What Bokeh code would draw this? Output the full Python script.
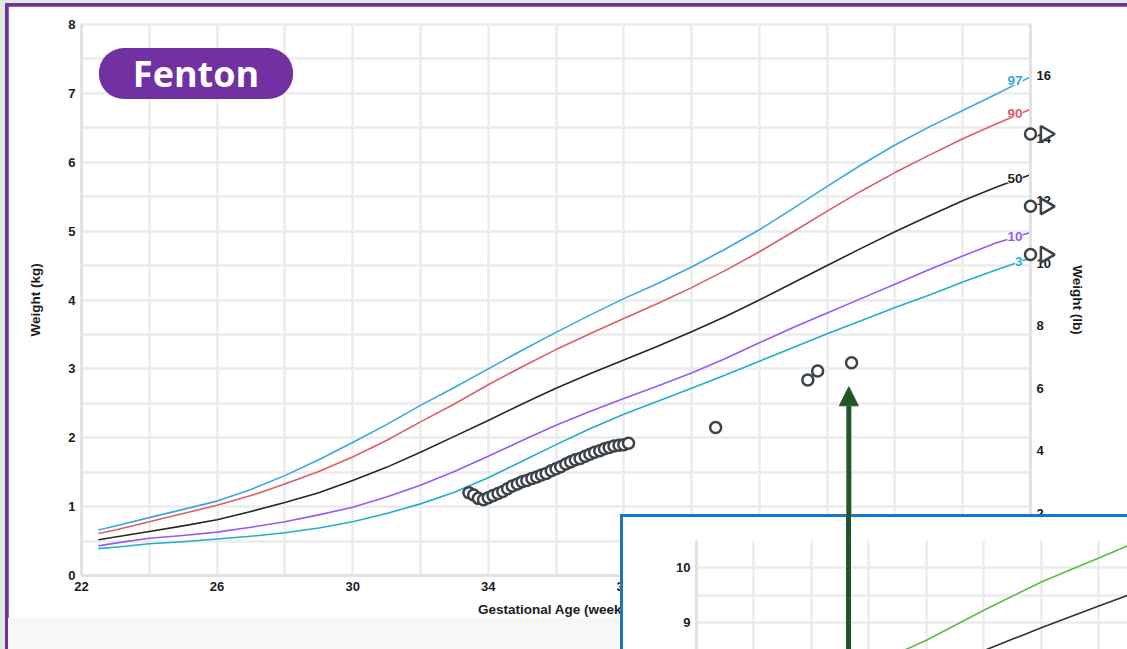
import math
from bokeh.plotting import figure
from bokeh.models import (Range1d, LinearAxis, FixedTicker, ColumnDataSource, LabelSet,
                          Label, Arrow, NormalHead, Div)
from bokeh.core.properties import value
from bokeh.embed import file_html
from bokeh.resources import INLINE

# ---------------- data ----------------
curve_ages = [22.5, 23, 24, 25, 26, 27, 28, 29, 30, 31, 32, 33, 34, 35, 36, 37, 38,
              39, 40, 41, 42, 43, 44, 45, 46, 47, 48, 49, 50]
p97 = [0.66, 0.72, 0.84, 0.96, 1.08, 1.25, 1.45, 1.68, 1.93, 2.19, 2.47, 2.73, 3.00, 3.27,
       3.53, 3.78, 4.02, 4.24, 4.48, 4.74, 5.02, 5.33, 5.65, 5.96, 6.25, 6.51, 6.75, 6.99, 7.24]
p90 = [0.61, 0.66, 0.78, 0.90, 1.02, 1.16, 1.33, 1.51, 1.72, 1.96, 2.23, 2.49, 2.77, 3.03,
       3.28, 3.51, 3.73, 3.95, 4.18, 4.43, 4.70, 4.99, 5.29, 5.58, 5.85, 6.10, 6.34, 6.56, 6.77]
p50 = [0.52, 0.56, 0.64, 0.72, 0.81, 0.93, 1.06, 1.20, 1.38, 1.57, 1.79, 2.02, 2.25, 2.49,
       2.72, 2.93, 3.13, 3.33, 3.54, 3.76, 4.00, 4.25, 4.50, 4.75, 4.99, 5.22, 5.44, 5.64, 5.82]
p10 = [0.43, 0.47, 0.54, 0.58, 0.63, 0.70, 0.78, 0.88, 0.99, 1.14, 1.31, 1.51, 1.73, 1.96,
       2.18, 2.38, 2.57, 2.75, 2.94, 3.15, 3.38, 3.60, 3.81, 4.02, 4.23, 4.44, 4.64, 4.83, 4.98]
p3 = [0.39, 0.41, 0.46, 0.49, 0.53, 0.57, 0.62, 0.69, 0.78, 0.90, 1.04, 1.21, 1.42, 1.66,
      1.90, 2.13, 2.34, 2.53, 2.72, 2.91, 3.11, 3.31, 3.51, 3.70, 3.89, 4.07, 4.26, 4.44, 4.61]
percentile_names = ["97", "90", "50", "10", "3"]

daily_ages = [33.43, 33.57, 33.71, 33.86, 34.00, 34.14, 34.29, 34.43, 34.57, 34.71, 34.86,
              35.00, 35.14, 35.29, 35.43, 35.57, 35.71, 35.86, 36.00, 36.14, 36.29, 36.43,
              36.57, 36.71, 36.86, 37.00, 37.14, 37.29, 37.43, 37.57, 37.71, 37.86, 38.00, 38.14]
daily_weights = [1.20, 1.17, 1.12, 1.10, 1.13, 1.16, 1.19, 1.22, 1.26, 1.30, 1.33, 1.36,
                 1.38, 1.41, 1.43, 1.46, 1.48, 1.52, 1.55, 1.58, 1.62, 1.65, 1.68, 1.70,
                 1.73, 1.76, 1.79, 1.81, 1.84, 1.86, 1.88, 1.89, 1.90, 1.92]
later_ages = [40.71, 43.43, 43.72, 44.72]
later_weights = [2.15, 2.84, 2.97, 3.09]
offchart_weights = [6.41, 5.36, 4.66]   # plotted at the right edge (beyond 50 weeks)

arrow_age = 44.64
arrow_tip_kg = 2.74

x_ticks = [22, 26, 30, 34, 38, 42, 46, 50]
x_minor = [24, 28, 32, 36, 40, 44, 48]
kg_ticks = [0, 1, 2, 3, 4, 5, 6, 7, 8]
kg_minor = [0.5, 1.5, 2.5, 3.5, 4.5, 5.5, 6.5, 7.5]
lb_ticks = [0, 2, 4, 6, 8, 10, 12, 14, 16]
LB_PER_KG = 2.20462

inset_x_grid = [40, 41, 42, 43, 44, 45, 46, 47]
inset_y_ticks = [9, 10]
inset_y_minor = [8.5, 9.5, 10.5]
inset_green_ages = [43.6, 44, 45, 46, 47, 47.5]
inset_green_vals = [8.48, 8.67, 9.22, 9.74, 10.18, 10.40]
inset_black_ages = [45.0, 46, 47, 47.5]
inset_black_vals = [8.48, 8.90, 9.30, 9.49]

# ---------------- styles ----------------
FONT = "Liberation Sans"
INK = "#1c1c1c"
GRID = "#ececec"
AXIS = "#e2e2e2"
MARK = "#3b4349"
PURPLE = "#7131a1"
BLUE = "#1a75c3"
GREEN = "#1f5827"
colors = ["#3ba6e6", "#dc5e68", "#262626", "#975af6", "#1eb0c9"]
curves = [p97, p90, p50, p10, p3]

PAGE_LEFT, PAGE_TOP = 8, 6
FRAME_L, FRAME_T, FRAME_R, FRAME_B = 81, 24, 1030, 575
MAIN_W, MAIN_H = 1127 - PAGE_LEFT, 649 - PAGE_TOP


def place(model, left, top, z, extra=None):
    st = {"position": "absolute", "left": f"{left}px", "top": f"{top}px", "z-index": str(z)}
    if extra:
        st.update(extra)
    model.styles = st


def block(left, top, w, h, z, color):
    d = Div(text="", width=w, height=h, margin=0)
    place(d, left, top, z, {"background-color": color, "margin": "0px"})
    return d


def style_axis(ax, label=None, standoff=8):
    ax.axis_line_color = AXIS
    ax.axis_line_width = 3
    ax.major_tick_line_color = None
    ax.minor_tick_line_color = None
    ax.major_tick_out = 0
    ax.major_tick_in = 0
    ax.minor_tick_out = 0
    ax.minor_tick_in = 0
    ax.major_label_text_font = FONT
    ax.major_label_text_font_style = "bold"
    ax.major_label_text_font_size = "13px"
    ax.major_label_text_color = INK
    ax.major_label_standoff = 6
    if label:
        ax.axis_label = label
        ax.axis_label_text_font = FONT
        ax.axis_label_text_font_style = "bold"
        ax.axis_label_text_font_size = "13.5px"
        ax.axis_label_text_color = INK
        ax.axis_label_standoff = standoff


# ---------------- main chart ----------------
p = figure(width=MAIN_W, height=MAIN_H,
           x_range=Range1d(x_ticks[0], x_ticks[-1]), y_range=Range1d(kg_ticks[0], kg_ticks[-1]),
           output_backend="svg", toolbar_location=None,
           min_border_left=FRAME_L - PAGE_LEFT, min_border_top=FRAME_T - PAGE_TOP,
           min_border_right=MAIN_W - (FRAME_R - PAGE_LEFT),
           min_border_bottom=MAIN_H - (FRAME_B - PAGE_TOP),
           background_fill_color="white", border_fill_color="white",
           outline_line_color=GRID, outline_line_width=2.5)
place(p, PAGE_LEFT, PAGE_TOP, 2)

p.extra_y_ranges = {"lb": Range1d(kg_ticks[0] * LB_PER_KG, kg_ticks[-1] * LB_PER_KG)}

xa = p.below[0]
ya = p.left[0]
xa.ticker = FixedTicker(ticks=x_ticks, minor_ticks=x_minor)
ya.ticker = FixedTicker(ticks=kg_ticks, minor_ticks=kg_minor)
style_axis(xa, "Gestational Age (weeks)", 8)
style_axis(ya, "Weight (kg)", 22)
ra = LinearAxis(y_range_name="lb", ticker=FixedTicker(ticks=lb_ticks))
style_axis(ra, "Weight (lb)", 16)
p.add_layout(ra, "right")

for g in (p.xgrid[0], p.ygrid[0]):
    g.grid_line_color = GRID
    g.grid_line_width = 2.5
    g.minor_grid_line_color = GRID
    g.minor_grid_line_width = 2.5

for vals, col in zip(curves, colors):
    p.line(curve_ages, vals, line_color=col, line_width=1.6, line_join="round")

lab_src = ColumnDataSource(dict(x=[curve_ages[-1]] * len(curves),
                                y=[c[-1] for c in curves],
                                text=percentile_names, color=colors))
p.add_layout(LabelSet(x="x", y="y", text="text", source=lab_src, text_color="color",
                      text_font=value(FONT), text_font_style="bold", text_font_size="13.5px",
                      text_align="right", text_baseline="middle", x_offset=-8, y_offset=-4,
                      background_fill_color="white"))

p.scatter(daily_ages + later_ages, daily_weights + later_weights, marker="circle", size=11,
          line_color=MARK, line_width=2.5, fill_color="white")

p.add_layout(Arrow(end=NormalHead(size=19, fill_color=GREEN, line_color=GREEN),
                   x_start=arrow_age, y_start=-1.0, x_end=arrow_age, y_end=arrow_tip_kg,
                   line_color=GREEN, line_width=5))

p.add_layout(Label(x=195.5 - FRAME_L, y=FRAME_B - 73, x_units="screen", y_units="screen",
                   text="Fenton", text_font="Open Sans", text_font_style="bold",
                   text_font_size="36px", text_color="white", text_align="center",
                   text_baseline="middle", background_fill_color=PURPLE,
                   border_radius=25, padding=dict(left=34, right=34, top=1, bottom=1)))

# ---------------- off-chart markers at the right edge ----------------
ppw = (FRAME_R - FRAME_L) / (x_ticks[-1] - x_ticks[0])
edge_left, edge_w = FRAME_R - 15, 45
e = figure(width=edge_w, height=FRAME_B - FRAME_T,
           x_range=Range1d(x_ticks[-1] - 15 / ppw, x_ticks[-1] + 30 / ppw),
           y_range=Range1d(kg_ticks[0], kg_ticks[-1]),
           output_backend="svg", toolbar_location=None,
           x_axis_location=None, y_axis_location=None, min_border=0,
           background_fill_color=None, border_fill_color=None, outline_line_color=None)
e.grid.visible = False
place(e, edge_left, FRAME_T, 4)
e.scatter([x_ticks[-1]] * len(offchart_weights), offchart_weights, marker="circle", size=11,
          line_color=MARK, line_width=2.5, fill_color="white")
e.scatter([x_ticks[-1] + 15 / ppw] * len(offchart_weights), offchart_weights,
          marker="triangle", angle=-math.pi / 2, size=16,
          line_color=MARK, line_width=2.5, fill_color="white")

# ---------------- inset chart ----------------
INS_L, INS_T, INS_W, INS_H = 620, 514, 1127 - 620, 649 - 514
ins = figure(width=INS_W, height=INS_H,
             x_range=Range1d(inset_x_grid[0], inset_x_grid[-1] + 0.5),
             y_range=Range1d(inset_y_minor[0], inset_y_minor[-1]),
             output_backend="svg", toolbar_location=None, x_axis_location=None,
             min_border_left=696 - INS_L, min_border_top=540 - INS_T,
             min_border_right=0, min_border_bottom=0,
             background_fill_color="white", border_fill_color="white",
             outline_line_color=None)
place(ins, INS_L, INS_T, 5)
iy = ins.left[0]
iy.ticker = FixedTicker(ticks=inset_y_ticks, minor_ticks=inset_y_minor)
style_axis(iy)
ins.xgrid[0].ticker = FixedTicker(ticks=inset_x_grid)
for g in (ins.xgrid[0], ins.ygrid[0]):
    g.grid_line_color = GRID
    g.grid_line_width = 2.5
    g.minor_grid_line_color = GRID
    g.minor_grid_line_width = 2.5
ins.line(inset_green_ages, inset_green_vals, line_color="#5dbb45", line_width=1.6,
         line_join="round")
ins.line(inset_black_ages, inset_black_vals, line_color="#333333", line_width=1.6,
         line_join="round")

# ---------------- page decoration ----------------
bg = block(0, 0, 1127, 649, 0, "#deecde")
frame_border = block(5, 3, 1122, 646, 1, PURPLE)
gray = block(PAGE_LEFT, 618, INS_L - PAGE_LEFT, 649 - 618, 3, "#f7f7f7")
blue_top = block(INS_L, INS_T, INS_W, 3, 6, BLUE)
blue_left = block(INS_L, INS_T, 3, INS_H, 6, BLUE)
shaft_x = FRAME_L + (arrow_age - x_ticks[0]) * ppw
shaft = block(round(shaft_x - 2.5), INS_T, 5, INS_H, 7, GREEN)

roots = [bg, frame_border, p, gray, e, ins, blue_top, blue_left, shaft]
open("out.html", "w").write(file_html(roots, INLINE, "Fenton"))
